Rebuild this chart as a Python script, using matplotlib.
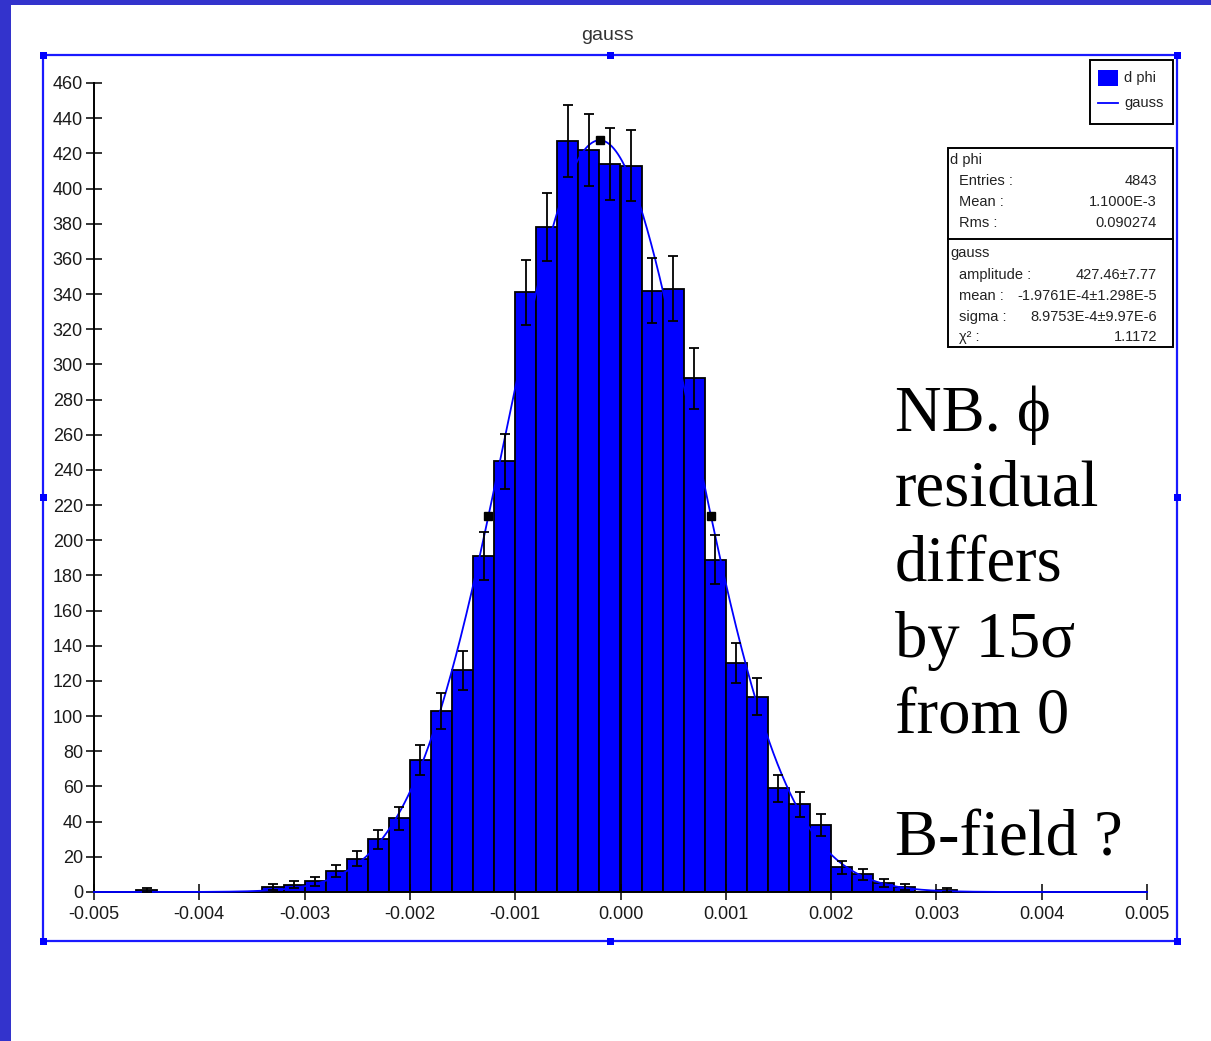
import numpy as np
import matplotlib
matplotlib.use("Agg")
import matplotlib.pyplot as plt
from matplotlib.patches import Rectangle
from matplotlib.lines import Line2D

plt.rcParams["axes.unicode_minus"] = False
plt.rcParams["font.family"] = ["Liberation Sans", "DejaVu Sans"]

# ---- histogram of d phi: 50 bins of width 0.0002 from -0.005 to 0.005 ----
x_min, x_max, bin_width = -0.005, 0.005, 0.0002
counts = [0, 0, 1, 0, 0, 0, 0, 0, 3, 4,
          6, 12, 19, 30, 42, 75, 103, 126, 191, 245,
          341, 378, 427, 422, 414, 413, 342, 343, 292, 189,
          130, 111, 59, 50, 38, 14, 10, 5, 3, 0,
          1, 0, 0, 0, 0, 0, 0, 0, 0, 0]

# ---- gaussian fit result ----
fit_amplitude = 427.46
fit_mean = -1.9761e-4
fit_sigma = 8.9753e-4

xtick_values = [-0.005, -0.004, -0.003, -0.002, -0.001, 0.0, 0.001, 0.002, 0.003, 0.004, 0.005]
xtick_labels = ["-0.005", "-0.004", "-0.003", "-0.002", "-0.001", "0.000",
                "0.001", "0.002", "0.003", "0.004", "0.005"]
ytick_values = list(range(0, 461, 20))

legend_labels = ["d phi", "gauss"]
stats_hist_title = "d phi"
stats_hist = [("Entries :", "4843"), ("Mean :", "1.1000E-3"), ("Rms :", "0.090274")]
stats_fit_title = "gauss"
stats_fit = [("amplitude :", "427.46\u00b17.77"),
             ("mean :", "-1.9761E-4\u00b11.298E-5"),
             ("sigma :", "8.9753E-4\u00b19.97E-6"),
             ("\u03c7\u00b2 :", "1.1172")]
note_lines = ["NB. \u03d5", "residual", "differs", "by 15\u03c3", "from 0", "B-field ?"]

W, H = 1211, 1041
fig = plt.figure(figsize=(W / 100, H / 100), dpi=100)
fig.patch.set_facecolor("white")


def fx(px):
    return px / W


def fy(py):
    return 1 - py / H


def gauss(x):
    x = np.asarray(x, dtype=float)
    return fit_amplitude * np.exp(-0.5 * ((x - fit_mean) / fit_sigma) ** 2)


# ---- main histogram axes ----
ax = fig.add_axes([fx(94), fy(892), (1147 - 94) / W, (892 - 83) / H])
ax.set_facecolor("none")

counts_arr = np.array(counts, dtype=float)
centers = x_min + bin_width * (np.arange(len(counts_arr)) + 0.5)
filled = counts_arr > 0

ax.bar(centers[filled], counts_arr[filled], width=bin_width, color="#0000FF",
       edgecolor="black", linewidth=1.3, zorder=1)

xs = np.linspace(x_min, x_max, 1500)
ax.plot(xs, gauss(xs), color="#0000FF", lw=1.3, zorder=3, clip_on=False)

ax.errorbar(centers[filled], counts_arr[filled], yerr=np.sqrt(counts_arr[filled]),
            fmt="none", ecolor="black", elinewidth=1.3, capsize=3.7, capthick=1.3,
            zorder=4)

# peak and half-maximum points of the fit
half_width = fit_sigma * np.sqrt(2 * np.log(2))
marker_x = np.array([fit_mean - half_width, fit_mean, fit_mean + half_width])
ax.plot(marker_x, gauss(marker_x), "s", color="black", ms=5.5, zorder=5)

ax.set_xlim(x_min, x_max)
ax.set_ylim(0, 460)
ax.set_xticks(xtick_values)
ax.set_xticklabels(xtick_labels)
ax.set_yticks(ytick_values)
for side in ("top", "right"):
    ax.spines[side].set_visible(False)
ax.spines["left"].set_linewidth(1.4)
ax.spines["bottom"].set_linewidth(1.4)
ax.tick_params(direction="inout", length=12, width=1.1, color="black",
               labelsize=13, labelcolor="#1a1a1a")
ax.tick_params(axis="x", pad=4)
ax.tick_params(axis="y", pad=2)

# ---- overlay in pixel coordinates for the frame, boxes and notes ----
ov = fig.add_axes([0, 0, 1, 1], zorder=10)
ov.set_xlim(0, W)
ov.set_ylim(H, 0)
ov.axis("off")

# slide background stripes
ov.add_patch(Rectangle((0, 0), 11, H, color="#3333CC", lw=0))
ov.add_patch(Rectangle((0, 0), W, 5, color="#3333CC", lw=0))

# selection frame with handles
ov.add_patch(Rectangle((43, 55), 1177 - 43, 941 - 55, fill=False,
                       edgecolor="#1A1AFF", lw=1.6))
for hx, hy in [(43, 55), (610, 55), (1177, 55), (43, 497), (1177, 497),
               (43, 941), (610, 941), (1177, 941)]:
    ov.add_patch(Rectangle((hx - 3.5, hy - 3.5), 7, 7, color="#0000FF", lw=0))

ov.text(607, 35, "gauss", ha="center", va="center", fontsize=14, color="#333333")

# legend
ov.add_patch(Rectangle((1090, 60), 83, 64, fill=False, edgecolor="black", lw=1.4))
ov.add_patch(Rectangle((1098, 70), 20, 16, color="#0000FF", lw=0))
ov.add_line(Line2D([1098, 1118], [103, 103], color="#0000FF", lw=1.3))
ov.text(1124, 78, legend_labels[0], ha="left", va="center", fontsize=10.5, color="#222222")
ov.text(1124, 103, legend_labels[1], ha="left", va="center", fontsize=10.5, color="#222222")

# statistics box
ov.add_patch(Rectangle((948, 148), 225, 199, fill=False, edgecolor="black", lw=1.4))
ov.add_line(Line2D([948, 1173], [239, 239], color="black", lw=1.4))
ov.text(950, 160, stats_hist_title, ha="left", va="center", fontsize=10.5, color="#222222")
for (label, value), yy in zip(stats_hist, [181, 202, 223]):
    ov.text(959, yy, label, ha="left", va="center", fontsize=10.5, color="#222222")
    ov.text(1157, yy, value, ha="right", va="center", fontsize=10.5, color="#222222")
ov.text(950, 253, stats_fit_title, ha="left", va="center", fontsize=10.5, color="#222222")
for (label, value), yy in zip(stats_fit, [275, 296, 317, 337]):
    ov.text(959, yy, label, ha="left", va="center", fontsize=10.5, color="#222222")
    ov.text(1157, yy, value, ha="right", va="center", fontsize=10.5, color="#222222")

# note text
for line, base in zip(note_lines, [431, 506, 582, 657, 733, 855]):
    ov.text(895, base, line, ha="left", va="baseline", fontsize=46.5,
            family=["Liberation Serif", "DejaVu Serif"], color="black")

fig.savefig("out.png", dpi=100)
